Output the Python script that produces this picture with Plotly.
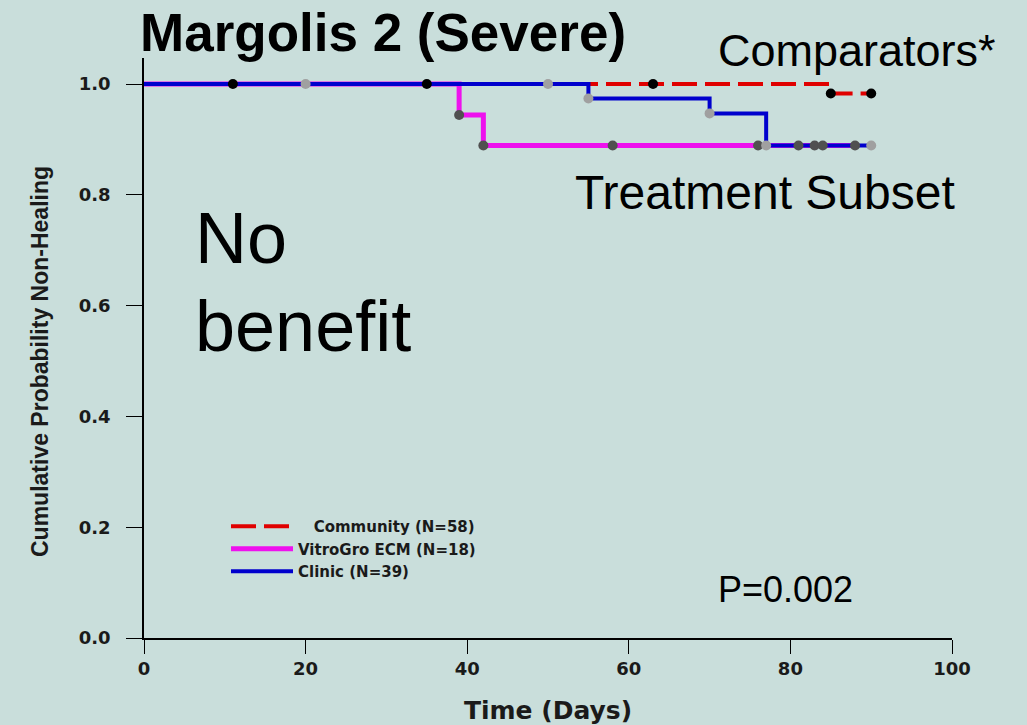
import plotly.graph_objects as go

# ---------------- data ----------------
community_t = [0, 85, 90]
community_s = [1.0, 0.983, 0.983]
community_cens_t = [11, 35, 63, 85, 90]
community_cens_s = [1.0, 1.0, 1.0, 0.983, 0.983]

vitro_t = [0, 39, 42, 88]
vitro_s = [1.0, 0.944, 0.889, 0.889]
vitro_cens_t = [39, 42, 58, 76, 81, 83, 84, 88]
vitro_cens_s = [0.944, 0.889, 0.889, 0.889, 0.889, 0.889, 0.889, 0.889]

clinic_t = [0, 55, 70, 77, 90]
clinic_s = [1.0, 0.974, 0.947, 0.889, 0.889]
clinic_cens_t = [20, 50, 55, 70, 77, 90]
clinic_cens_s = [1.0, 1.0, 0.974, 0.947, 0.889, 0.889]

names = ["\u00a0\u00a0\u00a0Community (N=58)", "VitroGro ECM (N=18)", "Clinic (N=39)"]
x_ticks = [0, 20, 40, 60, 80, 100]
y_ticks = [0.0, 0.2, 0.4, 0.6, 0.8, 1.0]

# ---------------- layout geometry (page pixels) ----------------
W, H = 1027, 725
X0, X1, Y0, Y1 = 144, 952, 58, 638  # plot area
L, T, R, B = X0, Y0, W - X1, H - Y1


def px(x):
    return (x - X0) / (X1 - X0)


def py(y):
    return (Y1 - y) / (Y1 - Y0)


BG = "#c9dedb"
fig = go.Figure()

fig.add_trace(go.Scatter(x=community_t, y=community_s, mode="lines", line_shape="hv",
                         line=dict(color="#e00000", width=4, dash="25px,8px"), name=names[0]))
fig.add_trace(go.Scatter(x=vitro_t, y=vitro_s, mode="lines", line_shape="hv",
                         line=dict(color="#ee11ee", width=5), name=names[1]))
fig.add_trace(go.Scatter(x=clinic_t, y=clinic_s, mode="lines", line_shape="hv",
                         line=dict(color="#0000cd", width=4), name=names[2]))

fig.add_trace(go.Scatter(x=community_cens_t, y=community_cens_s, mode="markers",
                         marker=dict(color="#000000", size=10), showlegend=False))
fig.add_trace(go.Scatter(x=vitro_cens_t, y=vitro_cens_s, mode="markers",
                         marker=dict(color="#505050", size=10), showlegend=False))
fig.add_trace(go.Scatter(x=clinic_cens_t, y=clinic_cens_s, mode="markers",
                         marker=dict(color="#a0a0a0", size=10), showlegend=False))

tickfont = dict(family="DejaVu Sans", size=18, color="#1a1a1a", weight="bold")

fig.update_layout(
    width=W, height=H,
    margin=dict(l=L, r=R, t=T, b=B, autoexpand=False),
    paper_bgcolor=BG, plot_bgcolor=BG,
    showlegend=True,
    legend=dict(x=px(226), y=py(510), xanchor="left", yanchor="top",
                bgcolor="rgba(0,0,0,0)", borderwidth=0, itemwidth=62,
                font=dict(family="DejaVu Sans", size=15, color="#1a1a1a", weight="bold"),
                tracegroupgap=0),
    xaxis=dict(range=[0, 100], tickvals=x_ticks, ticks="outside", ticklen=14,
               tickcolor="black", showline=True, linecolor="black", linewidth=1.5,
               showgrid=False, zeroline=False, tickfont=tickfont, automargin=False,
               title=dict(text="<b>Time (Days)</b>", standoff=25,
                          font=dict(family="DejaVu Sans", size=25, color="#1a1a1a"))),
    yaxis=dict(range=[0, 1.047], tickvals=y_ticks, tickformat=".1f", ticks="outside",
               ticklen=16, tickcolor="black", showline=True, linecolor="black",
               linewidth=1.5, showgrid=False, zeroline=False, tickfont=tickfont,
               ticklabelstandoff=12, automargin=False),
)

# y-axis title placed as rotated text (centred like the reference)
fig.add_annotation(text="<b>Cumulative Probability Non-Healing</b>", textangle=-90,
                   xref="paper", yref="paper", x=px(40), y=py(362),
                   xanchor="center", yanchor="middle", showarrow=False,
                   font=dict(family="Liberation Sans, Arial", size=23, color="#1a1a1a"))

ann_font = "Liberation Sans, Arial"
anns = [
    ("<b>Margolis 2 (Severe)</b>", 138, 33, 53),
    ("Comparators*", 716, 51, 45),
    ("Treatment Subset", 573, 192, 48),
    ("No", 193, 238, 72),
    ("benefit", 193, 326, 72),
    ("P=0.002", 716, 589, 36),
]
for text, x, y, s in anns:
    fig.add_annotation(text=text, xref="paper", yref="paper", x=px(x), y=py(y),
                       xanchor="left", yanchor="middle", showarrow=False,
                       font=dict(family=ann_font, size=s, color="black"))

fig.write_html(
    "out.html",
    config={"displayModeBar": False},
    post_script="document.body.style.margin='0';document.body.style.background='%s';" % BG,
)
